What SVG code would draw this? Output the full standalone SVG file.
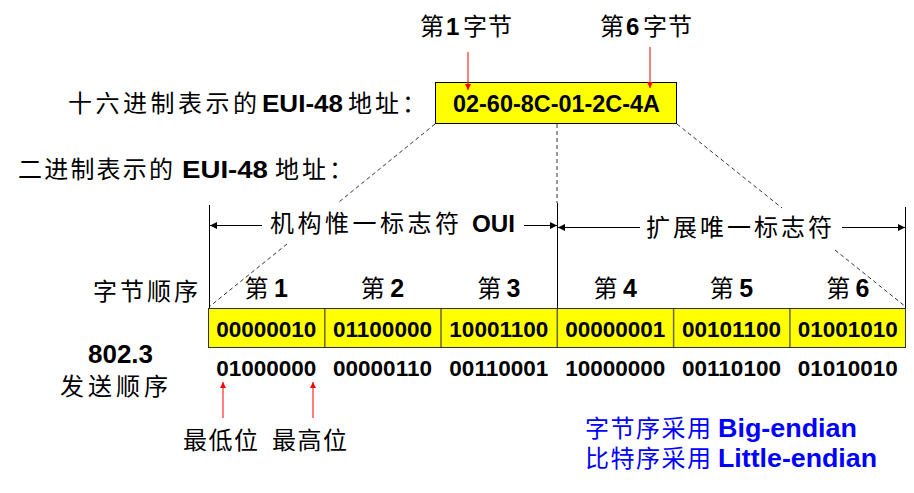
<svg xmlns="http://www.w3.org/2000/svg" width="914" height="493" viewBox="0 0 914 493">
<style>
.cjk{font-family:"Noto Sans CJK SC","Noto Sans CJK JP",sans-serif;font-size:24px;fill:#000}
.lat{font-family:"Liberation Sans",Arial,sans-serif;font-weight:bold;fill:#000}
.bin{font-family:"Liberation Sans",Arial,sans-serif;font-weight:bold;font-size:22.5px;fill:#000;text-anchor:middle}
.blue{fill:#0000FF}
.dash{stroke:#333;stroke-width:1;stroke-dasharray:4 3;fill:none}
.solid{stroke:#000;stroke-width:1;fill:none}
.red{stroke:#FF0000;stroke-width:1;fill:none}
</style>
<defs>
<marker id="ah" viewBox="0 0 10 10" refX="10" refY="5" markerWidth="10" markerHeight="7" markerUnits="userSpaceOnUse" orient="auto">
<path d="M0,0 L10,5 L0,10 Z" fill="#000"/>
</marker>
<marker id="ahr" viewBox="0 0 10 10" refX="10" refY="5" markerWidth="10" markerHeight="6" markerUnits="userSpaceOnUse" orient="auto">
<path d="M0,0 L10,5 L0,10 Z" fill="#FF0000"/>
</marker>
</defs>
<rect width="914" height="493" fill="#fff"/>

<g id="top-labels">
<text class="cjk" x="420" y="35">第</text><text class="lat" x="446" y="35" font-size="24">1</text><text class="cjk" x="463" y="35" letter-spacing="1">字节</text>
<text class="cjk" x="600" y="35">第</text><text class="lat" x="626" y="35" font-size="24">6</text><text class="cjk" x="643" y="35" letter-spacing="1">字节</text>
</g>

<g id="hex-label">
<text class="cjk" x="68" y="112" letter-spacing="3.5">十六进制表示的</text>
<text class="lat" x="262" y="112" font-size="24" textLength="81" lengthAdjust="spacingAndGlyphs">EUI-48</text>
<text class="cjk" x="348" y="112" letter-spacing="3">地址：</text>
</g>

<g id="hex-box">
<rect x="435.5" y="82.5" width="241" height="41" fill="#FFFF00" stroke="#000" stroke-width="1"/>
<text class="lat" x="453" y="112" font-size="24" textLength="207" lengthAdjust="spacingAndGlyphs">02-60-8C-01-2C-4A</text>
</g>

<g id="bin-label">
<text class="cjk" x="18" y="178" letter-spacing="2.2">二进制表示的</text>
<text class="lat" x="182" y="178" font-size="24" textLength="86" lengthAdjust="spacingAndGlyphs">EUI-48</text>
<text class="cjk" x="275" y="178" letter-spacing="3">地址：</text>
</g>

<g id="bracket-oui">
<text class="cjk" x="270" y="232" letter-spacing="3.5">机构惟一标志符</text>
<text class="lat" x="472" y="232" font-size="24" textLength="43" lengthAdjust="spacingAndGlyphs">OUI</text>
</g>

<g id="bracket-ext">
<text class="cjk" x="646" y="236" letter-spacing="3">扩展唯一标志符</text>
</g>

<g id="byte-order-label">
<text class="cjk" x="93" y="300" letter-spacing="3">字节顺序</text>
</g>

<g id="byte-numbers">
<text x="266.2" y="297" text-anchor="middle"><tspan class="cjk">第 </tspan><tspan class="lat" font-size="25">1</tspan></text>
<text x="382.5" y="297" text-anchor="middle"><tspan class="cjk">第 </tspan><tspan class="lat" font-size="25">2</tspan></text>
<text x="498.8" y="297" text-anchor="middle"><tspan class="cjk">第 </tspan><tspan class="lat" font-size="25">3</tspan></text>
<text x="615.2" y="297" text-anchor="middle"><tspan class="cjk">第 </tspan><tspan class="lat" font-size="25">4</tspan></text>
<text x="731.5" y="297" text-anchor="middle"><tspan class="cjk">第 </tspan><tspan class="lat" font-size="25">5</tspan></text>
<text x="847.8" y="297" text-anchor="middle"><tspan class="cjk">第 </tspan><tspan class="lat" font-size="25">6</tspan></text>
</g>

<g id="byte-cells">
<rect x="208.5" y="308.5" width="697" height="39" fill="#FFFF00" stroke="#333" stroke-width="1"/>
<g stroke="#666633" stroke-width="1.5">
<line x1="324.8" y1="309" x2="324.8" y2="347"/>
<line x1="441" y1="309" x2="441" y2="347"/>
<line x1="557.3" y1="309" x2="557.3" y2="347"/>
<line x1="673.6" y1="309" x2="673.6" y2="347"/>
<line x1="789.9" y1="309" x2="789.9" y2="347"/>
</g>
<text class="bin" x="266.2" y="337">00000010</text>
<text class="bin" x="382.5" y="337">01100000</text>
<text class="bin" x="498.8" y="337">10001100</text>
<text class="bin" x="615.2" y="337">00000001</text>
<text class="bin" x="731.5" y="337">00101100</text>
<text class="bin" x="847.8" y="337">01001010</text>
</g>

<g id="send-order">
<text class="lat" x="88" y="363" font-size="25" textLength="65" lengthAdjust="spacingAndGlyphs">802.3</text>
<text class="cjk" x="60" y="395" letter-spacing="4">发送顺序</text>
<text class="bin" x="266.2" y="376">01000000</text>
<text class="bin" x="382.5" y="376">00000110</text>
<text class="bin" x="498.8" y="376">00110001</text>
<text class="bin" x="615.2" y="376">10000000</text>
<text class="bin" x="731.5" y="376">00110100</text>
<text class="bin" x="847.8" y="376">01010010</text>
</g>

<g id="bit-labels">
<text class="cjk" x="183" y="449" font-size="25" letter-spacing="1.5">最低位</text>
<text class="cjk" x="272" y="449" font-size="25" letter-spacing="1.5">最高位</text>
</g>

<g id="endian-note">
<text class="cjk blue" x="585" y="437" font-size="24.5" letter-spacing="1.5">字节序采用</text>
<text class="lat blue" x="718" y="437" font-size="26.5" textLength="139" lengthAdjust="spacingAndGlyphs">Big-endian</text>
<text class="cjk blue" x="585" y="467" font-size="24.5" letter-spacing="1.5">比特序采用</text>
<text class="lat blue" x="718" y="467" font-size="26.5" textLength="159" lengthAdjust="spacingAndGlyphs">Little-endian</text>
</g>

<g id="connectors">
<line class="dash" x1="435" y1="124" x2="339" y2="202"/>
<line class="dash" x1="287" y1="244" x2="209" y2="307"/>
<line class="dash" x1="557" y1="124" x2="557" y2="203"/>
<line class="solid" x1="557.5" y1="203" x2="557.5" y2="308"/>
<line class="dash" x1="677" y1="124" x2="782" y2="208"/>
<line class="dash" x1="835" y1="250" x2="906" y2="307"/>
<line class="solid" x1="209.5" y1="205" x2="209.5" y2="308"/>
<line class="solid" x1="905.5" y1="207" x2="905.5" y2="308"/>
<line class="solid" x1="262" y1="225.5" x2="210" y2="225.5" marker-end="url(#ah)"/>
<line class="solid" x1="524" y1="225.5" x2="557" y2="225.5" marker-end="url(#ah)"/>
<line class="solid" x1="640" y1="227.5" x2="558" y2="227.5" marker-end="url(#ah)"/>
<line class="solid" x1="842" y1="227.5" x2="905" y2="227.5" marker-end="url(#ah)"/>
<line class="red" x1="468" y1="52" x2="468" y2="90" marker-end="url(#ahr)"/>
<line class="red" x1="650" y1="47" x2="650" y2="88" marker-end="url(#ahr)"/>
<line class="red" x1="223" y1="418" x2="223" y2="382" marker-end="url(#ahr)"/>
<line class="red" x1="313" y1="418" x2="313" y2="382" marker-end="url(#ahr)"/>
</g>
</svg>
